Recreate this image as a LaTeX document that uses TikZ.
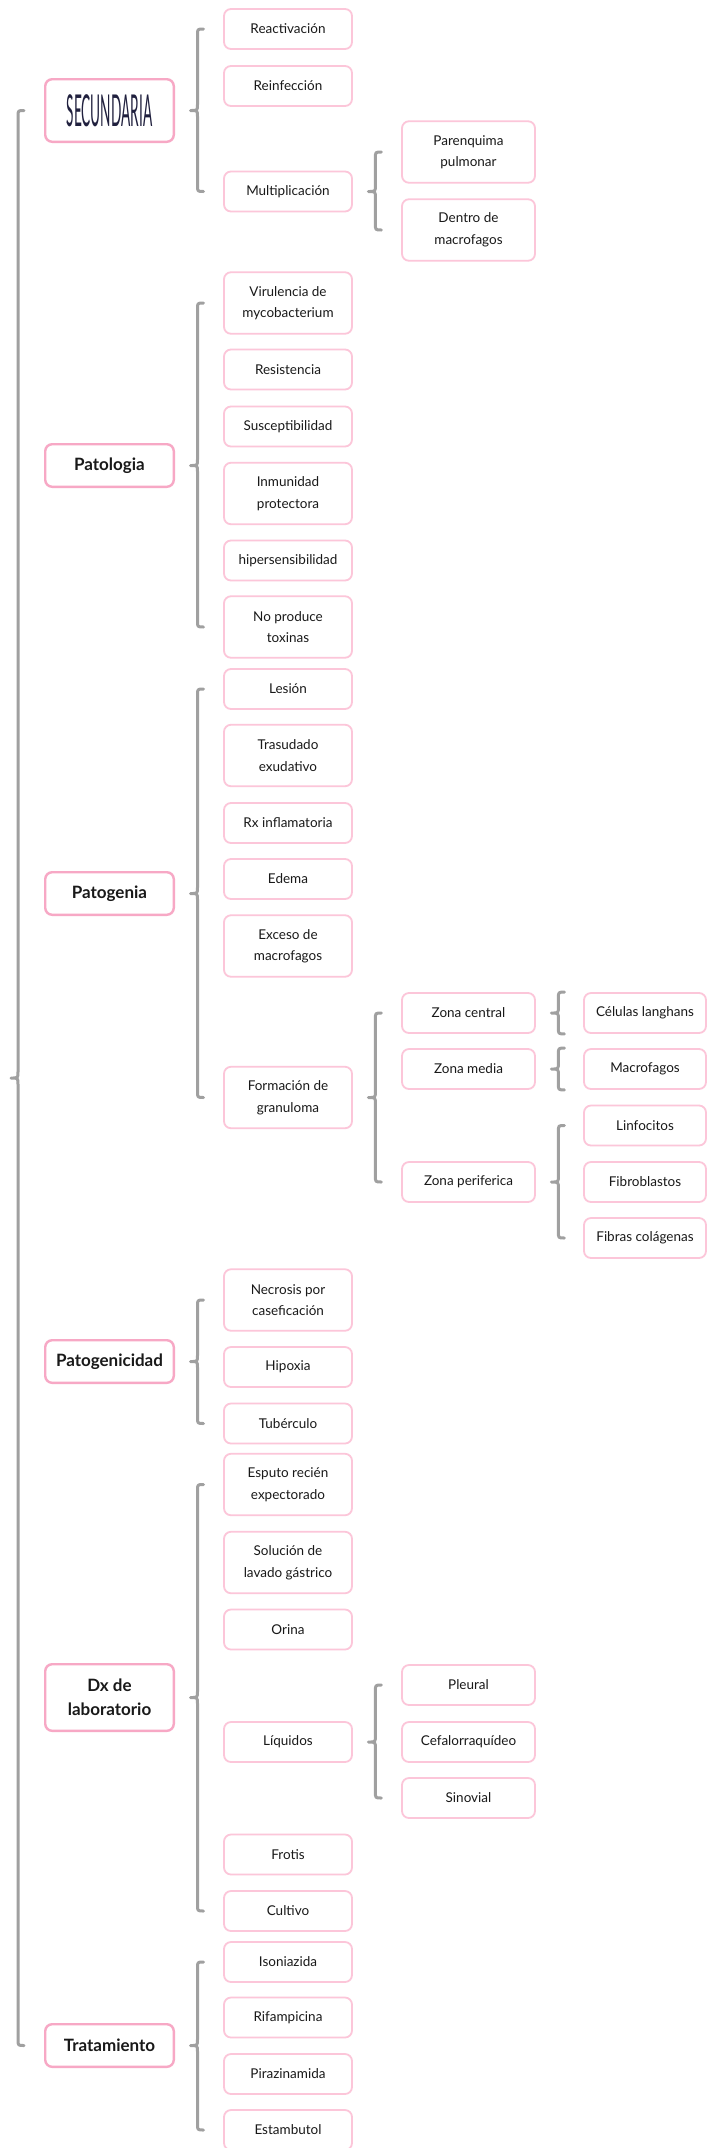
\documentclass[tikz,border=0pt]{standalone}
\usepackage{fontspec}
\setmainfont{Lato}
\usepackage{graphicx}
\usetikzlibrary{calc}
\definecolor{leafpink}{RGB}{252,198,217}
\definecolor{mainpink}{RGB}{247,168,197}
\definecolor{bracegray}{RGB}{160,160,160}
\definecolor{txt}{RGB}{25,25,25}
\definecolor{navy}{RGB}{32,32,62}
\tikzset{
 base/.style={draw, rounded corners=7pt, fill=white, align=center, text=txt, inner sep=2pt},
 topbox/.style={base, draw=mainpink, line width=2.4pt, minimum width=128.6pt, font=\fontsize{17}{24}\selectfont\bfseries},
 leaf/.style={base, draw=leafpink, line width=1.8pt, font=\fontsize{13.5}{21.5}\selectfont},
 l2/.style={leaf, minimum width=128pt},
 l3/.style={leaf, minimum width=133pt},
 l4/.style={leaf, minimum width=122pt},
 h1/.style={minimum height=40pt},
 h2/.style={minimum height=61.5pt},
 brc/.style={draw=bracegray, line width=3pt, line cap=round, line join=round},
}
\newcommand\mybrace[3]{%
 \draw[brc] ([xshift=13pt]#2) .. controls ([xshift=7pt]#2) .. ([xshift=7pt,yshift=-6pt]#2)
 -- ([xshift=7pt,yshift=6pt]#1) .. controls ([xshift=7pt]#1) .. (#1)
 .. controls ([xshift=7pt]#1) .. ([xshift=7pt,yshift=-6pt]#1)
 -- ([xshift=7pt,yshift=6pt]#3) .. controls ([xshift=7pt]#3) .. ([xshift=13pt]#3);}
\newcommand\grp[4]{%
 \coordinate (#4t) at ([xshift=15.5pt]#1.east);
 \coordinate (#4a) at (#4t |- #2);
 \coordinate (#4b) at (#4t |- #3);
 \mybrace{#4t}{#4a}{#4b}}
\begin{document}
\begin{tikzpicture}[x=1pt,y=-1pt]
\fill[white] (0,0) rectangle (720,2148);
\useasboundingbox (0,0) rectangle (720,2148);
% level 1
\node[topbox, minimum height=62.6pt] (sec) at (109.5,110.5) {\textcolor{navy}{\scalebox{0.31}[1]{\fontsize{44}{44}\selectfont\mdseries SECUNDARIA}}};
\node[topbox, minimum height=42.6pt] (pat) at (109.5,465.5) {Patologia};
\node[topbox, minimum height=42.6pt] (pgen) at (109.5,893.5) {Patogenia};
\node[topbox, minimum height=42.6pt] (pgcd) at (109.5,1361.5) {Patogenicidad};
\node[topbox, minimum height=66.6pt] (dx) at (109.5,1697.5) {Dx de\\laboratorio};
\node[topbox, minimum height=42.6pt] (trat) at (109.5,2045.5) {Tratamiento};
% level 2
\node[l2,h1] (reac) at (288,29) {Reactivación};
\node[l2,h1] (rein) at (288,86) {Reinfección};
\node[l2,h1] (mult) at (288,191.5) {Multiplicación};
\node[l2,h2] (vir) at (288,303) {Virulencia de\\mycobacterium};
\node[l2,h1] (res) at (288,369.5) {Resistencia};
\node[l2,h1] (sus) at (288,426.5) {Susceptibilidad};
\node[l2,h2] (inm) at (288,493.5) {Inmunidad\\protectora};
\node[l2,h1] (hip) at (288,560.5) {hipersensibilidad};
\node[l2,h2] (nop) at (288,627) {No produce\\toxinas};
\node[l2,h1] (les) at (288,689) {Lesión};
\node[l2,h2] (tras) at (288,755.5) {Trasudado\\exudativo};
\node[l2,h1] (rx) at (288,823) {Rx inflamatoria};
\node[l2,h1] (ede) at (288,879) {Edema};
\node[l2,h2] (exc) at (288,946) {Exceso de\\macrofagos};
\node[l2,h2] (form) at (288,1097.5) {Formación de\\granuloma};
\node[l2,h2] (nec) at (288,1300) {Necrosis por\\caseficación};
\node[l2,h1] (hipo) at (288,1367) {Hipoxia};
\node[l2,h1] (tub) at (288,1423.5) {Tubérculo};
\node[l2,h2] (esp) at (288,1484.5) {Esputo recién\\expectorado};
\node[l2,h2] (sol) at (288,1562.5) {Solución de\\lavado gástrico};
\node[l2,h1] (ori) at (288,1629.5) {Orina};
\node[l2,h1] (liq) at (288,1742) {Líquidos};
\node[l2,h1] (fro) at (288,1854.5) {Frotis};
\node[l2,h1] (cul) at (288,1911) {Cultivo};
\node[l2,h1] (iso) at (288,1962) {Isoniazida};
\node[l2,h1] (rif) at (288,2017.5) {Rifampicina};
\node[l2,h1] (pir) at (288,2074) {Pirazinamida};
\node[l2,h1] (est) at (288,2130) {Estambutol};
% level 3
\node[l3,h2] (par) at (468.5,152) {Parenquima\\pulmonar};
\node[l3,h2] (den) at (468.5,230) {Dentro de\\macrofagos};
\node[l3,h1] (zc) at (468.5,1013) {Zona central};
\node[l3,h1] (zm) at (468.5,1069) {Zona media};
\node[l3,h1] (zp) at (468.5,1182) {Zona periferica};
\node[l3,h1] (ple) at (468.5,1685) {Pleural};
\node[l3,h1] (cef) at (468.5,1742) {Cefalorraquídeo};
\node[l3,h1] (sin) at (468.5,1798) {Sinovial};
% level 4
\node[l4,h1] (cel) at (645,1013) {Células langhans};
\node[l4,h1] (mac) at (645,1069) {Macrofagos};
\node[l4,h1] (lin) at (645,1125.5) {Linfocitos};
\node[l4,h1] (fib) at (645,1182) {Fibroblastos};
\node[l4,h1] (fcol) at (645,1238) {Fibras colágenas};
% main brace
\coordinate (ma) at ([xshift=-33pt]sec.west);
\coordinate (mb) at ([xshift=-33pt]trat.west);
\coordinate (mt) at ($(ma)!0.5!(mb)$);
\mybrace{mt}{ma}{mb}
% group braces
\grp{sec}{reac.center}{mult.center}{g1}
\grp{mult}{par.center}{den.center}{g2}
\grp{pat}{vir.center}{nop.center}{g3}
\grp{pgen}{les.center}{form.center}{g4}
\grp{form}{zc.center}{zp.center}{g5}
\grp{zc}{cel.north}{cel.south}{g6}
\grp{zm}{mac.north}{mac.south}{g7}
\grp{zp}{lin.center}{fcol.center}{g8}
\grp{pgcd}{nec.center}{tub.center}{g9}
\grp{dx}{esp.center}{cul.center}{g10}
\grp{liq}{ple.center}{sin.center}{g11}
\grp{trat}{iso.center}{est.center}{g12}
\end{tikzpicture}
\end{document}
